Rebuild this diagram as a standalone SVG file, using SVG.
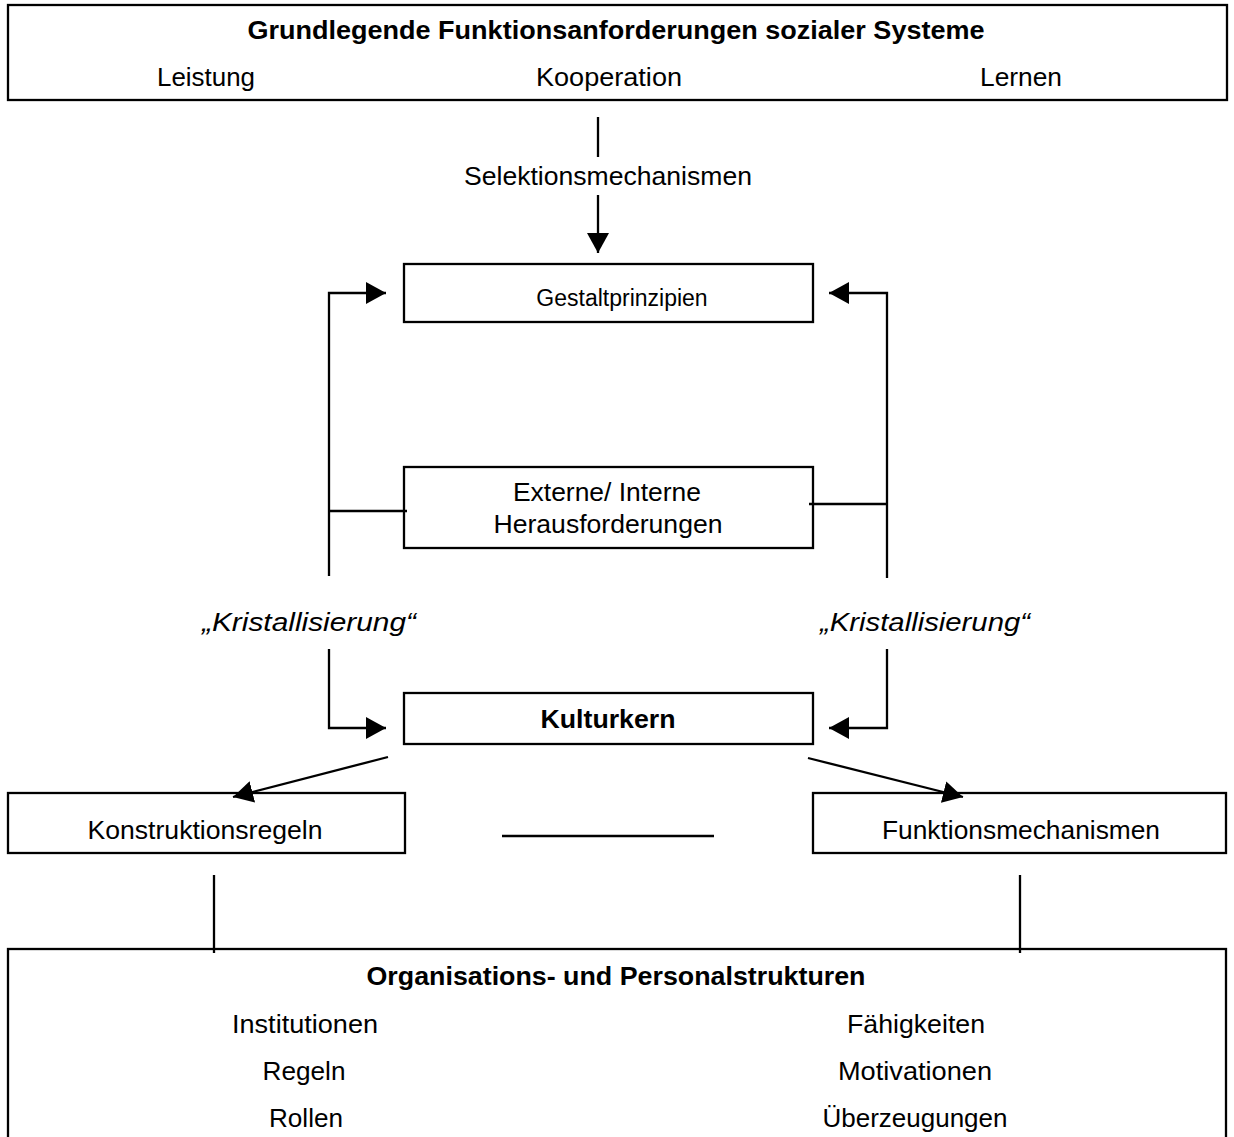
<svg xmlns="http://www.w3.org/2000/svg" width="1234" height="1137" viewBox="0 0 1234 1137">
<style>
.box{fill:#fff;stroke:#000;stroke-width:2.3}
.ln{fill:none;stroke:#000;stroke-width:2.3}
text{font-family:"Liberation Sans",Arial,sans-serif;font-size:26px;fill:#000;text-anchor:middle}
.b{font-weight:bold}
.i{font-style:italic}
.s{font-size:23px}
</style>
<defs>
<marker id="ah" markerUnits="userSpaceOnUse" markerWidth="22" markerHeight="22" refX="20" refY="11" orient="auto">
<path d="M0,0 L20,11 L0,22 z" fill="#000"/>
</marker>
</defs>
<g id="top">
<rect class="box" x="8" y="5" width="1219" height="95" stroke-width="2.5"/>
<text class="b" x="616" y="39" textLength="737" lengthAdjust="spacingAndGlyphs">Grundlegende Funktionsanforderungen sozialer Systeme</text>
<text x="206" y="86" textLength="98" lengthAdjust="spacingAndGlyphs">Leistung</text>
<text x="609" y="86" textLength="146" lengthAdjust="spacingAndGlyphs">Kooperation</text>
<text x="1021" y="86" textLength="82" lengthAdjust="spacingAndGlyphs">Lernen</text>
</g>
<g id="selektion">
<text x="608" y="185" textLength="288" lengthAdjust="spacingAndGlyphs">Selektionsmechanismen</text>
</g>
<g id="gestalt">
<rect class="box" x="404" y="264" width="409" height="58"/>
<text class="s" x="622" y="306">Gestaltprinzipien</text>
</g>
<g id="herausforderungen">
<rect class="box" x="404" y="467" width="409" height="81"/>
<text x="607" y="501" textLength="188" lengthAdjust="spacingAndGlyphs">Externe/ Interne</text>
<text x="608" y="533" textLength="229" lengthAdjust="spacingAndGlyphs">Herausforderungen</text>
</g>
<g id="krist-left">
<text class="i" x="309" y="631" textLength="214" lengthAdjust="spacingAndGlyphs">„Kristallisierung“</text>
</g>
<g id="krist-right">
<text class="i" x="925" y="631" textLength="210" lengthAdjust="spacingAndGlyphs">„Kristallisierung“</text>
</g>
<g id="kulturkern">
<rect class="box" x="404" y="693" width="409" height="51"/>
<text class="b" x="608" y="728" textLength="135" lengthAdjust="spacingAndGlyphs">Kulturkern</text>
</g>
<g id="konstruktion">
<rect class="box" x="8" y="793" width="397" height="60"/>
<text x="205" y="839" textLength="235" lengthAdjust="spacingAndGlyphs">Konstruktionsregeln</text>
</g>
<g id="funktion">
<rect class="box" x="813" y="793" width="413" height="60"/>
<text x="1021" y="839" textLength="278" lengthAdjust="spacingAndGlyphs">Funktionsmechanismen</text>
</g>
<g id="bottom">
<rect class="box" x="8" y="949" width="1218" height="200"/>
<text class="b" x="616" y="985" textLength="499" lengthAdjust="spacingAndGlyphs">Organisations- und Personalstrukturen</text>
<text x="305" y="1033" textLength="146" lengthAdjust="spacingAndGlyphs">Institutionen</text>
<text x="304" y="1080" textLength="83" lengthAdjust="spacingAndGlyphs">Regeln</text>
<text x="306" y="1127" textLength="74" lengthAdjust="spacingAndGlyphs">Rollen</text>
<text x="916" y="1033" textLength="138" lengthAdjust="spacingAndGlyphs">Fähigkeiten</text>
<text x="915" y="1080" textLength="154" lengthAdjust="spacingAndGlyphs">Motivationen</text>
<text x="915" y="1127" textLength="185" lengthAdjust="spacingAndGlyphs">Überzeugungen</text>
</g>
<g id="connectors">
<line class="ln" x1="598" y1="117" x2="598" y2="157"/>
<line class="ln" x1="598" y1="195" x2="598" y2="253" marker-end="url(#ah)"/>
<polyline class="ln" points="329,576 329,293 386,293" marker-end="url(#ah)"/>
<polyline class="ln" points="887,578 887,293 829,293" marker-end="url(#ah)"/>
<line class="ln" x1="329" y1="511" x2="407" y2="511"/>
<line class="ln" x1="809" y1="504" x2="887" y2="504"/>
<polyline class="ln" points="329,649 329,728 386,728" marker-end="url(#ah)"/>
<polyline class="ln" points="887,649 887,728 829,728" marker-end="url(#ah)"/>
<line class="ln" x1="388" y1="757" x2="233" y2="797" marker-end="url(#ah)"/>
<line class="ln" x1="808" y1="758" x2="963" y2="797" marker-end="url(#ah)"/>
<line class="ln" x1="502" y1="836" x2="714" y2="836"/>
<line class="ln" x1="214" y1="875" x2="214" y2="953"/>
<line class="ln" x1="1020" y1="875" x2="1020" y2="953"/>
</g>
</svg>
